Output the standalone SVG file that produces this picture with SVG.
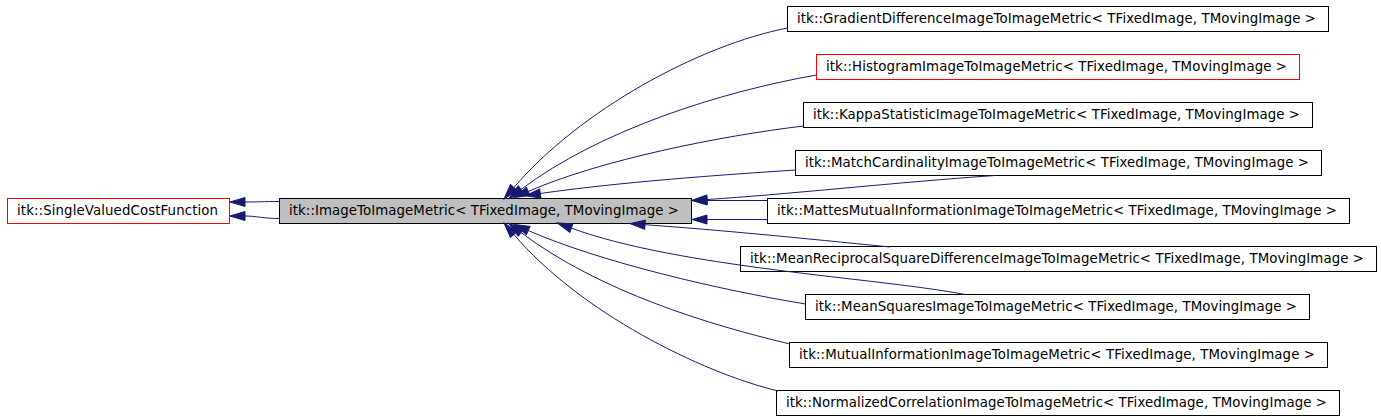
<svg xmlns="http://www.w3.org/2000/svg" width="1381" height="419" viewBox="0 0 1381 419">
  <style>
    .box { fill: #ffffff; stroke: #000000; stroke-width: 1; }
    .red { stroke: #ff0000; }
    .gray { fill: #bfbfbf; }
    .lbl { font-family: "DejaVu Sans", "Liberation Sans", sans-serif; font-size: 13.33px; fill: #000000; }
    .edge { fill: none; stroke: #191970; stroke-width: 1; marker-end: url(#ah); }
  </style>
  <defs>
    <marker id="ah" markerUnits="userSpaceOnUse" viewBox="0 0 15 10" refX="0" refY="5" markerWidth="15" markerHeight="10" orient="auto" overflow="visible">
      <path d="M0,0.5 L15,5 L0,9.5 z" fill="#191970" stroke="#191970" stroke-width="1"/>
    </marker>
  </defs>
  <rect width="1381" height="419" fill="#ffffff"/>

  <g id="node-singlevalued">
    <rect class="box red" x="7.5" y="198.5" width="222" height="25"/>
    <text class="lbl" x="17" y="215.3" textLength="201">itk::SingleValuedCostFunction</text>
  </g>
  <g id="node-imagetoimage">
    <rect class="box gray" x="279.5" y="198.5" width="412" height="25"/>
    <text class="lbl" x="289" y="215.3" textLength="390">itk::ImageToImageMetric&lt; TFixedImage, TMovingImage &gt;</text>
  </g>
  <g id="node-gradient">
    <rect class="box" x="787.5" y="6.5" width="541" height="25"/>
    <text class="lbl" x="797" y="23.3" textLength="519">itk::GradientDifferenceImageToImageMetric&lt; TFixedImage, TMovingImage &gt;</text>
  </g>
  <g id="node-histogram">
    <rect class="box red" x="816.5" y="54.5" width="483" height="25"/>
    <text class="lbl" x="826" y="71.3" textLength="461">itk::HistogramImageToImageMetric&lt; TFixedImage, TMovingImage &gt;</text>
  </g>
  <g id="node-kappa">
    <rect class="box" x="803.5" y="102.5" width="509" height="25"/>
    <text class="lbl" x="813" y="119.3" textLength="487">itk::KappaStatisticImageToImageMetric&lt; TFixedImage, TMovingImage &gt;</text>
  </g>
  <g id="node-match">
    <rect class="box" x="795.5" y="150.5" width="526" height="25"/>
    <text class="lbl" x="805" y="167.3" textLength="504">itk::MatchCardinalityImageToImageMetric&lt; TFixedImage, TMovingImage &gt;</text>
  </g>
  <g id="node-mattes">
    <rect class="box" x="767.5" y="198.5" width="582" height="25"/>
    <text class="lbl" x="777" y="215.3" textLength="560">itk::MattesMutualInformationImageToImageMetric&lt; TFixedImage, TMovingImage &gt;</text>
  </g>
  <g id="node-meanreciprocal">
    <rect class="box" x="740.5" y="246.5" width="636" height="25"/>
    <text class="lbl" x="750" y="263.3" textLength="614">itk::MeanReciprocalSquareDifferenceImageToImageMetric&lt; TFixedImage, TMovingImage &gt;</text>
  </g>
  <g id="node-meansquares">
    <rect class="box" x="805.5" y="294.5" width="504" height="25"/>
    <text class="lbl" x="815" y="311.3" textLength="482">itk::MeanSquaresImageToImageMetric&lt; TFixedImage, TMovingImage &gt;</text>
  </g>
  <g id="node-mutual">
    <rect class="box" x="789.5" y="342.5" width="538" height="25"/>
    <text class="lbl" x="799" y="359.3" textLength="516">itk::MutualInformationImageToImageMetric&lt; TFixedImage, TMovingImage &gt;</text>
  </g>
  <g id="node-normalized">
    <rect class="box" x="776.5" y="390.5" width="563" height="25"/>
    <text class="lbl" x="786" y="407.3" textLength="541">itk::NormalizedCorrelationImageToImageMetric&lt; TFixedImage, TMovingImage &gt;</text>
  </g>

  <g id="connectors">
    <path class="edge" d="M279,201.5 C265,201.5 255,202 245,202"/>
    <path class="edge" d="M279,218.5 C265,218.5 255,216 245,216"/>
    <path class="edge" d="M787.5,28 C700,45 580,110 513.8,187.6"/>
    <path class="edge" d="M816.5,75 C720,92 600,130 521,189.5"/>
    <path class="edge" d="M803.5,126 C720,136 600,160 528.2,191.5"/>
    <path class="edge" d="M795.5,170 C720,175 620,182 540.3,193.5"/>
    <path class="edge" d="M995,175.5 C900,182 780,195 707,199.5"/>
    <path class="edge" d="M767,200.5 L707,200.5"/>
    <path class="edge" d="M767,219.5 L707,219.5"/>
    <path class="edge" d="M890,247 C800,238 720,230 645,224.7"/>
    <path class="edge" d="M965,294.5 C880,278 680,268 571.3,228.1"/>
    <path class="edge" d="M805.5,304 C720,290 600,262 528.2,230.5"/>
    <path class="edge" d="M790,344 C710,325 600,292 521,232.5"/>
    <path class="edge" d="M778,391 C700,372 580,312 513.8,234.4"/>
  </g>
</svg>
